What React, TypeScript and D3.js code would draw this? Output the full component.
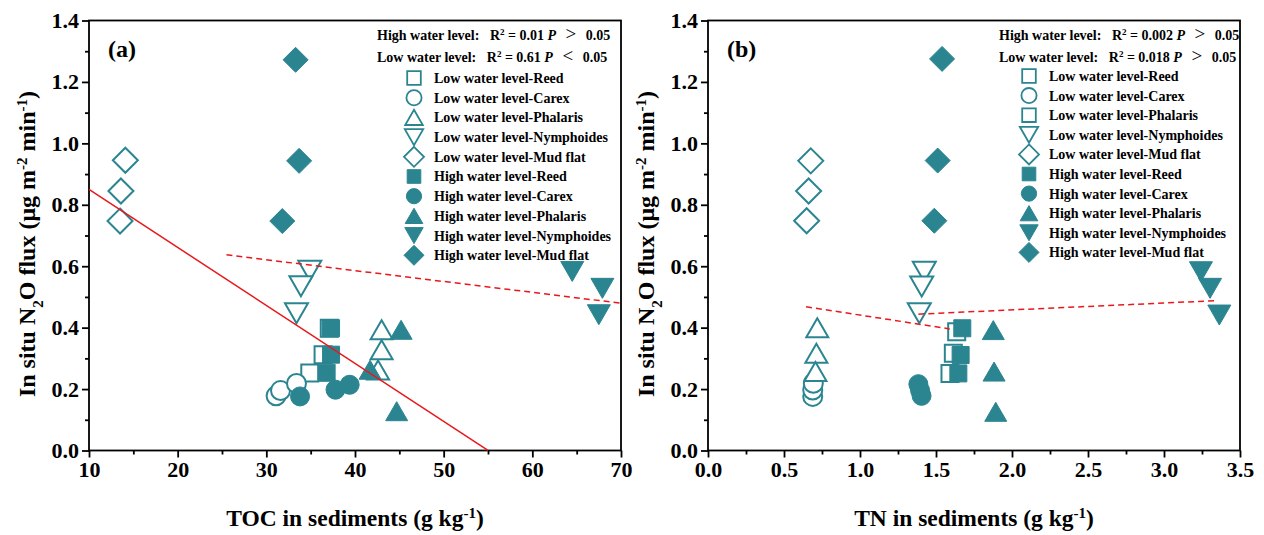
import React, { useEffect, useRef } from "react";
import * as d3 from "d3";

const teal = "#2b8591";
const font = "'Times New Roman', 'Liberation Serif', serif";

const seriesNames = [
  "Low water level-Reed",
  "Low water level-Carex",
  "Low water level-Phalaris",
  "Low water level-Nymphoides",
  "Low water level-Mud flat",
  "High water level-Reed",
  "High water level-Carex",
  "High water level-Phalaris",
  "High water level-Nymphoides",
  "High water level-Mud flat",
];
const seriesShapes = ["square", "circle", "up", "down", "diamond", "square", "circle", "up", "down", "diamond"];
// panel (b) legend shows a square for Low water level-Phalaris
const legendShapesB = ["square", "circle", "square", "down", "diamond", "square", "circle", "up", "down", "diamond"];
const seriesFilled = [false, false, false, false, false, true, true, true, true, true];

// panel (a): TOC (g/kg) vs flux
const tocX = [
  [34.9, 36.4, 37.1],
  [31.1, 31.6, 33.4],
  [43.0, 43.0, 42.6],
  [34.9, 33.9, 33.4],
  [14.1, 13.6, 13.5],
  [37.3, 37.3, 36.8],
  [33.8, 37.8, 39.4],
  [45.2, 41.7, 44.7],
  [64.5, 67.9, 67.5],
  [33.3, 33.7, 31.8],
];
const tocFlux = [
  [0.252, 0.312, 0.398],
  [0.178, 0.195, 0.218],
  [0.393, 0.328, 0.262],
  [0.585, 0.535, 0.447],
  [0.945, 0.845, 0.747],
  [0.398, 0.312, 0.253],
  [0.176, 0.198, 0.214],
  [0.393, 0.263, 0.128],
  [0.583, 0.528, 0.442],
  [1.272, 0.943, 0.747],
];

// panel (b): TN (g/kg) vs flux
const tnX = [
  [1.592, 1.614, 1.636],
  [0.689, 0.689, 0.693],
  [0.719, 0.713, 0.707],
  [1.423, 1.406, 1.39],
  [0.676, 0.662, 0.649],
  [1.673, 1.662, 1.647],
  [1.384, 1.395, 1.405],
  [1.877, 1.882, 1.893],
  [3.243, 3.303, 3.364],
  [1.54, 1.511, 1.489],
];
const tnFlux = [
  [0.251, 0.317, 0.387],
  [0.176, 0.197, 0.219],
  [0.4, 0.317, 0.257],
  [0.582, 0.534, 0.447],
  [0.943, 0.845, 0.748],
  [0.398, 0.311, 0.251],
  [0.216, 0.196, 0.178],
  [0.392, 0.257, 0.126],
  [0.582, 0.528, 0.441],
  [1.275, 0.944, 0.748],
];

// fitted lines: [intercept, slope] and x range, low water first
const tocFitCoef = [[1.039, -0.01889], [0.7273, -0.00354]];
const tocFitRange = [[10, 55], [25.5, 70]];
const tnFitCoef = [[0.5171, -0.0762], [0.413, 0.0224]];
const tnFitRange = [[0.645, 1.59], [1.384, 3.347]];

// stats text: [label, R2, sign, P]
const tocStats = [["High water level", "0.01", ">", "0.05"], ["Low water level", "0.61", "<", "0.05"]];
const tnStats = [["High water level", "0.002", ">", "0.05"], ["Low water level", "0.018", ">", "0.05"]];

const yTicks = [0, 0.2, 0.4, 0.6, 0.8, 1.0, 1.2, 1.4];
const tocTicks = [10, 20, 30, 40, 50, 60, 70];
const tnTicks = [0, 0.5, 1.0, 1.5, 2.0, 2.5, 3.0, 3.5];

function markerPath(shape: string, k: number) {
  const p = d3.path();
  if (shape === "square") {
    const h = 8.5 * k;
    p.rect(-h, -h, 2 * h, 2 * h);
  } else if (shape === "circle") {
    const r = 9.5 * k;
    p.moveTo(r, 0);
    p.arc(0, 0, r, 0, Math.PI * 2);
  } else if (shape === "up") {
    const w = 11 * k, h = 9.5 * k;
    p.moveTo(0, -h); p.lineTo(w, h); p.lineTo(-w, h); p.closePath();
  } else if (shape === "down") {
    const w = 11.5 * k, h = 10 * k;
    p.moveTo(-w, -h); p.lineTo(w, -h); p.lineTo(0, h); p.closePath();
  } else {
    const d = 12.5 * k;
    p.moveTo(0, -d); p.lineTo(d, 0); p.lineTo(0, d); p.lineTo(-d, 0); p.closePath();
  }
  return p.toString();
}

function drawPanel(svg: any, o: any) {
  const x = d3.scaleLinear().domain(o.xDomain).range([o.left, o.right]);
  const y = d3.scaleLinear().domain([0, 1.4]).range([450.5, 20.5]);
  const g = svg.append("g");

  // axes
  const styleAxis = (a: any) => {
    a.select(".domain").remove();
    a.selectAll("line").attr("stroke", "#000").attr("stroke-width", 1.8);
    a.selectAll("text").attr("font-family", font).attr("font-weight", "bold").attr("font-size", 22).attr("fill", "#000");
  };
  g.append("g").attr("transform", `translate(0,450.5)`)
    .call(d3.axisBottom(x).tickValues(o.minorX).tickSize(4).tickFormat(() => "")).call(styleAxis);
  g.append("g").attr("transform", `translate(0,450.5)`)
    .call(d3.axisBottom(x).tickValues(o.xTicks).tickSize(7).tickPadding(4).tickFormat(o.xFmt)).call(styleAxis);
  g.append("g").attr("transform", `translate(${o.left},0)`)
    .call(d3.axisLeft(y).tickValues(d3.range(0.1, 1.4, 0.2)).tickSize(4).tickFormat(() => "")).call(styleAxis);
  g.append("g").attr("transform", `translate(${o.left},0)`)
    .call(d3.axisLeft(y).tickValues(yTicks).tickSize(7).tickPadding(3).tickFormat(d3.format(".1f"))).call(styleAxis);

  g.append("rect").attr("x", o.left).attr("y", 20.5).attr("width", o.right - o.left).attr("height", 430)
    .attr("fill", "none").attr("stroke", "#000").attr("stroke-width", 1.8);

  // markers
  o.xs.forEach((xs: number[], i: number) => {
    g.append("g").selectAll("path").data(xs).enter().append("path")
      .attr("d", markerPath(seriesShapes[i], 1))
      .attr("transform", (d: number, j: number) => `translate(${x(d)},${y(o.ys[i][j])})`)
      .attr("fill", seriesFilled[i] ? teal : "#fff")
      .attr("stroke", teal)
      .attr("stroke-width", seriesFilled[i] ? 1 : 2);
  });

  // fit lines
  o.coef.forEach((c: number[], i: number) => {
    const xr = o.range[i];
    const line = d3.line<number>().x((d) => x(d)).y((d) => y(c[0] + c[1] * d));
    g.append("path").attr("d", line(xr)).attr("fill", "none").attr("stroke", "#e8191c")
      .attr("stroke-width", 1.5).attr("stroke-dasharray", o.solidFirst && i === 0 ? null : "6,4");
  });

  // panel label
  g.append("text").attr("x", o.left + 19).attr("y", 57).text(o.tag)
    .attr("font-family", font).attr("font-weight", "bold").attr("font-size", 24);

  // stats
  o.stats.forEach((s: string[], i: number) => {
    const t = g.append("text").attr("x", o.statX).attr("y", 40 + i * 22).style("white-space", "pre")
      .attr("font-family", font).attr("font-weight", "bold").attr("font-size", 14);
    t.append("tspan").text(`${s[0]}:   R`);
    t.append("tspan").text("2").attr("font-size", 9).attr("baseline-shift", "super");
    t.append("tspan").text(` = ${s[1]} `);
    t.append("tspan").text("P").attr("font-style", "italic");
    t.append("tspan").text(`  ${s[2]}  `).attr("font-size", 19).attr("font-weight", "normal");
    t.append("tspan").text(s[3]);
  });

  // legend
  seriesNames.forEach((name, i) => {
    const cy = o.legY + i * o.legStep;
    g.append("path").attr("d", markerPath(o.legShapes[i], 0.8))
      .attr("transform", `translate(${o.legX},${cy})`)
      .attr("fill", seriesFilled[i] ? teal : "#fff").attr("stroke", teal)
      .attr("stroke-width", seriesFilled[i] ? 1 : 1.8);
    g.append("text").attr("x", o.legX + 20).attr("y", cy).attr("dy", "0.35em").text(name)
      .attr("font-family", font).attr("font-weight", "bold").attr("font-size", 14);
  });

  // axis titles
  const xt = g.append("text").attr("x", (o.left + o.right) / 2).attr("y", 526).attr("text-anchor", "middle")
    .attr("font-family", font).attr("font-weight", "bold").attr("font-size", 23.5);
  xt.append("tspan").text(`${o.xTitle} in sediments (g kg`);
  xt.append("tspan").text("-1").attr("font-size", 15).attr("baseline-shift", "super");
  xt.append("tspan").text(")");

  const yt = g.append("text").attr("transform", `translate(${o.left - 54},244) rotate(-90)`)
    .attr("text-anchor", "middle").attr("font-family", font).attr("font-weight", "bold").attr("font-size", 24);
  yt.append("tspan").text("In situ N");
  yt.append("tspan").text("2").attr("font-size", 15).attr("baseline-shift", "sub");
  yt.append("tspan").text("O flux (μg m");
  yt.append("tspan").text("-2").attr("font-size", 15).attr("baseline-shift", "super");
  yt.append("tspan").text(" min");
  yt.append("tspan").text("-1").attr("font-size", 15).attr("baseline-shift", "super");
  yt.append("tspan").text(")");
}

export default function App() {
  const ref = useRef<SVGSVGElement>(null);

  useEffect(() => {
    const svg = d3.select(ref.current);
    svg.selectAll("*").remove();

    drawPanel(svg, {
      left: 89, right: 621, xDomain: [10, 70], xTicks: tocTicks, minorX: d3.range(15, 70, 10),
      xFmt: d3.format("d"), xs: tocX, ys: tocFlux, coef: tocFitCoef, range: tocFitRange, solidFirst: true,
      tag: "(a)", stats: tocStats, statX: 377, legShapes: seriesShapes, legX: 414, legY: 78, legStep: 19.7,
      xTitle: "TOC",
    });
    drawPanel(svg, {
      left: 708, right: 1240, xDomain: [0, 3.5], xTicks: tnTicks, minorX: d3.range(0.25, 3.5, 0.5),
      xFmt: d3.format(".1f"), xs: tnX, ys: tnFlux, coef: tnFitCoef, range: tnFitRange, solidFirst: false,
      tag: "(b)", stats: tnStats, statX: 999, legShapes: legendShapesB, legX: 1029, legY: 76, legStep: 19.6,
      xTitle: "TN",
    });
  }, []);

  return (
    <div style={{ position: "absolute", left: 0, top: 0 }}>
      <svg ref={ref} width={1264} height={535} style={{ display: "block", background: "#fff" }} />
    </div>
  );
}
